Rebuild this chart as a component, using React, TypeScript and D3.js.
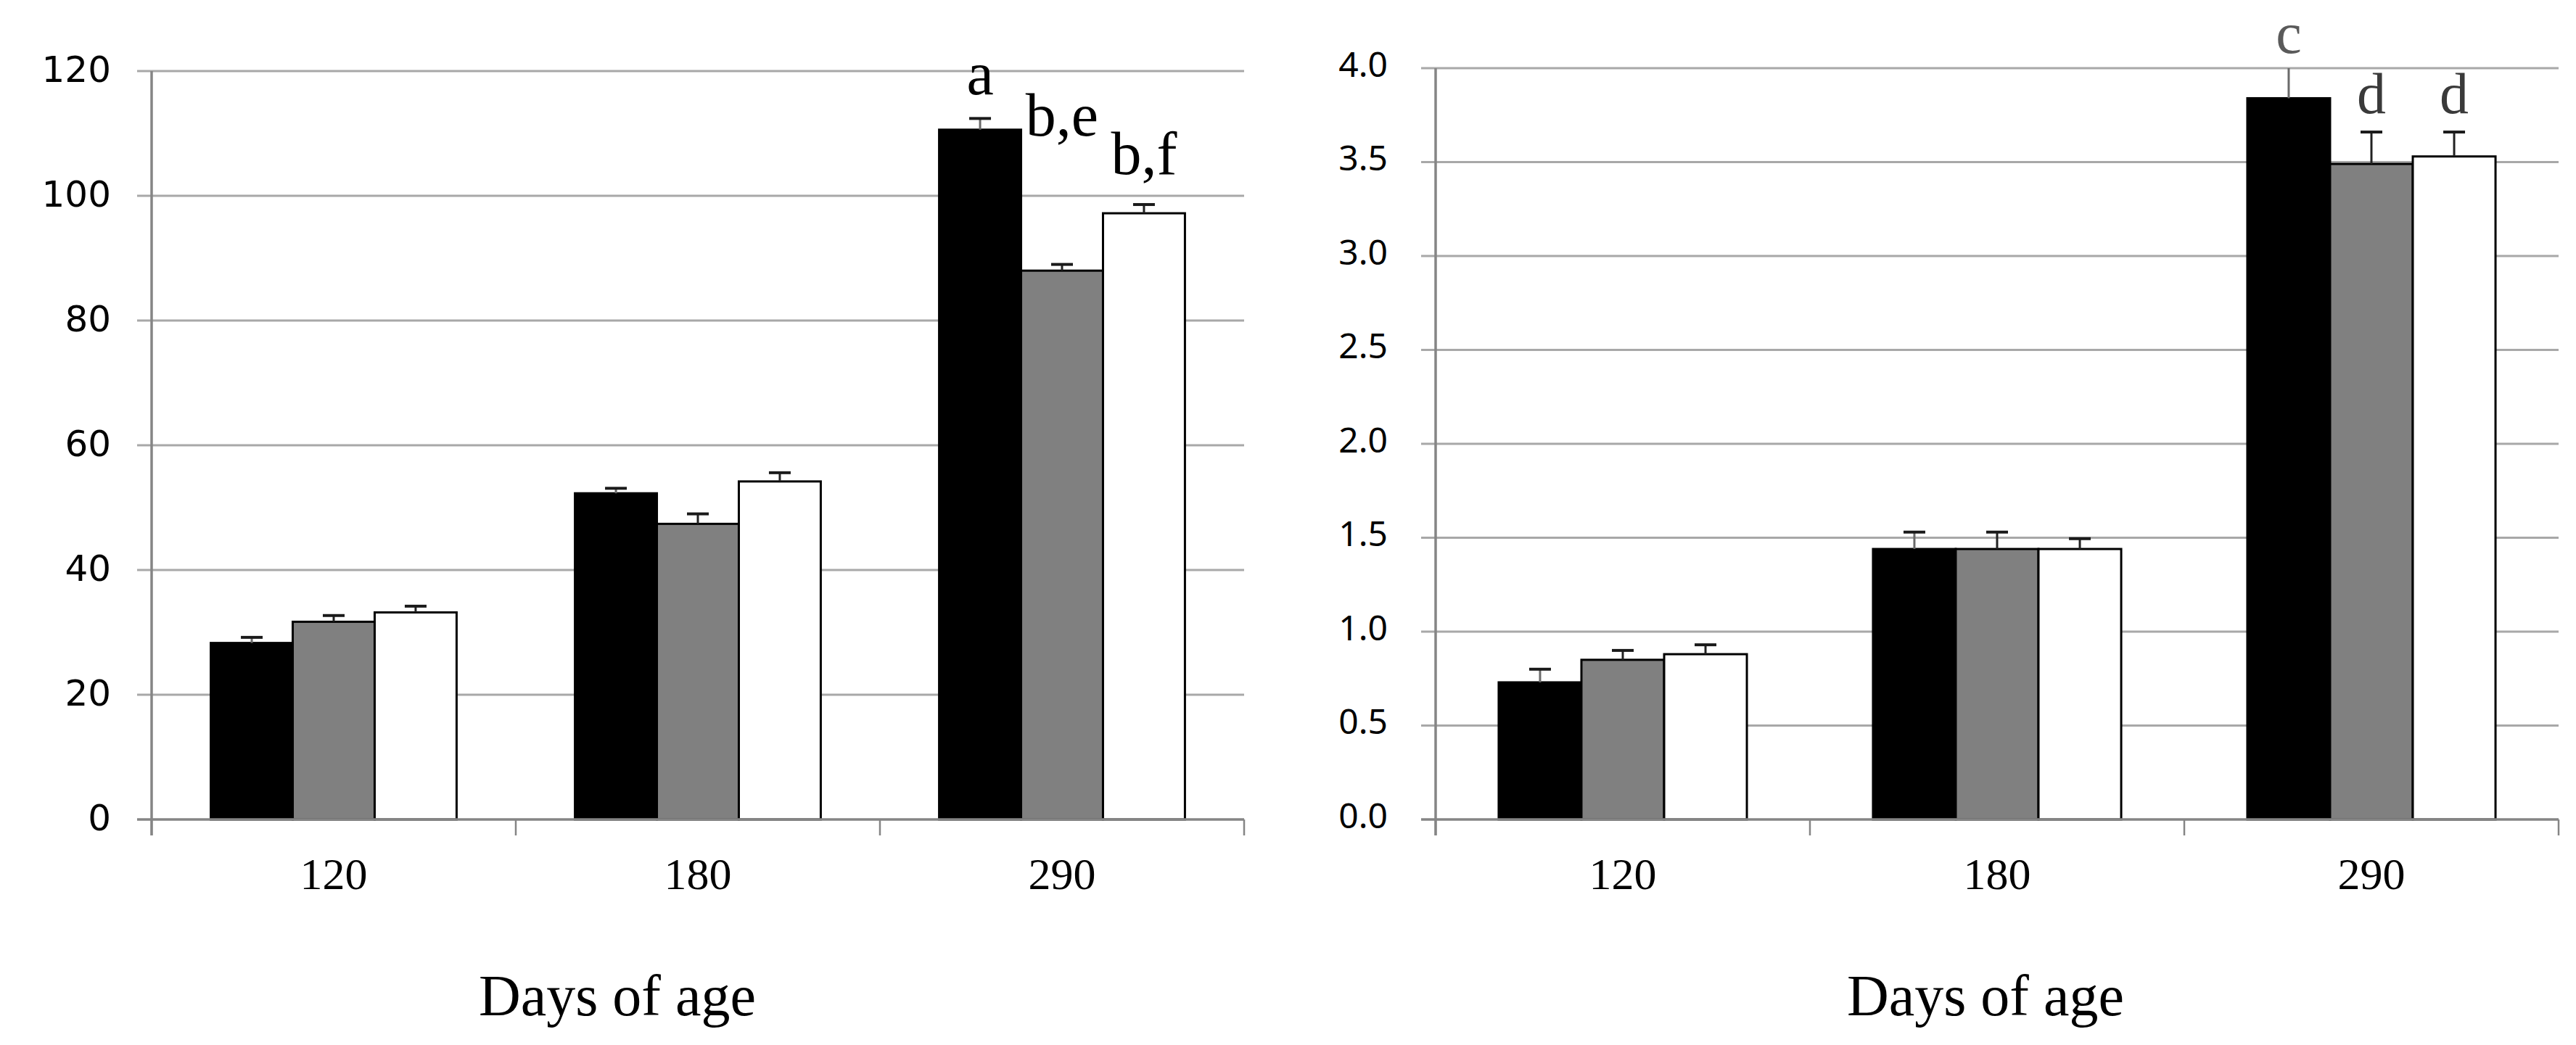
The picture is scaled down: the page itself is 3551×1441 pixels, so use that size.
import React from "react";
import * as d3 from "d3";

const categories = ["120", "180", "290"];
const series = ["black", "gray", "white"];
const seriesFill = ["#000000", "#808080", "#ffffff"];

// Left panel
const leftValues = [
  [28.3, 31.7, 33.2],
  [52.3, 47.4, 54.2],
  [110.6, 88.0, 97.2],
];
const leftErrors = [
  [0.9, 1.0, 1.0],
  [0.8, 1.6, 1.4],
  [1.8, 1.0, 1.4],
];
const leftTicks = [0, 20, 40, 60, 80, 100, 120];
const leftLetters = [
  { cat: 2, s: 0, text: "a", at: 116.3 },
  { cat: 2, s: 1, text: "b,e", at: 109.7 },
  { cat: 2, s: 2, text: "b,f", at: 103.5 },
];

// Right panel
const rightValues = [
  [0.73, 0.85, 0.88],
  [1.44, 1.44, 1.44],
  [3.84, 3.49, 3.53],
];
const rightErrors = [
  [0.07, 0.05, 0.05],
  [0.09, 0.09, 0.055],
  [0.2, 0.17, 0.13],
];
const rightTicks = [0, 0.5, 1.0, 1.5, 2.0, 2.5, 3.0, 3.5, 4.0];
const rightLetters = [
  { cat: 2, s: 0, text: "c", at: 4.08, color: "#5a5a5a" },
  { cat: 2, s: 1, text: "d", at: 3.76, color: "#3a3a3a" },
  { cat: 2, s: 2, text: "d", at: 3.76, color: "#3a3a3a" },
];

const xTitle = "Days of age";

type PanelProps = {
  x0: number;
  x1: number;
  yTop: number;
  yBottom: number;
  yMax: number;
  values: number[][];
  errors: number[][];
  ticks: number[];
  tickFmt: (v: number) => string;
  tickFont: string;
  tickSize: number;
  tickRight: number;
  tickDy: number;
  letters: { cat: number; s: number; text: string; at: number; color?: string }[];
  letterSize: number;
  padding: number;
  titleX: number;
};

function Panel(p: PanelProps) {
  const x = d3.scaleBand<string>().domain(categories).range([p.x0, p.x1]).paddingInner(p.padding).paddingOuter(p.padding / 2);
  const xs = d3.scaleBand<string>().domain(series).range([0, x.bandwidth()]);
  const y = d3.scaleLinear().domain([0, p.yMax]).range([p.yBottom, p.yTop]);
  const step = x.step();
  const boundaries = d3.range(categories.length + 1).map((i) => p.x0 + i * step);
  const grid = "#a8a8a8";
  const axis = "#858585";
  return (
    <g>
      {p.ticks.filter((t) => t > 0).map((t) => (
        <line key={"g" + t} x1={p.x0 - 20} x2={p.x1} y1={y(t)} y2={y(t)} stroke={grid} strokeWidth={3} />
      ))}
      {p.ticks.map((t) => (
        <text key={"yl" + t} x={p.tickRight} y={y(t) + p.tickDy} textAnchor="end" dominantBaseline="central"
          fontFamily={p.tickFont} fontSize={p.tickSize} fill="#000">
          {p.tickFmt(t)}
        </text>
      ))}
      {categories.map((c, ci) =>
        series.map((s, si) => {
          const v = p.values[ci][si];
          const bx = (x(c) as number) + (xs(s) as number);
          return (
            <rect key={c + s} x={bx} y={y(v)} width={xs.bandwidth()} height={y(0) - y(v)}
              fill={seriesFill[si]} stroke="#000" strokeWidth={3} />
          );
        })
      )}
      {categories.map((c, ci) =>
        series.map((s, si) => {
          const v = p.values[ci][si];
          const e = p.errors[ci][si];
          const cx = (x(c) as number) + (xs(s) as number) + xs.bandwidth() / 2;
          const top = Math.min(v + e, p.yMax);
          const clipped = v + e > p.yMax;
          return (
            <g key={"e" + c + s}>
              <line x1={cx} x2={cx} y1={y(v)} y2={y(top)} stroke={si === 0 ? "#6a6a6a" : "#222"} strokeWidth={3} />
              {!clipped && (
                <line x1={cx - 15} x2={cx + 15} y1={y(top)} y2={y(top)} stroke="#1a1a1a" strokeWidth={4} />
              )}
            </g>
          );
        })
      )}
      <line x1={p.x0 - 20} x2={p.x1} y1={y(0)} y2={y(0)} stroke={axis} strokeWidth={3.5} />
      {boundaries.map((bx, i) => (
        <line key={"xt" + i} x1={bx} x2={bx} y1={y(0)} y2={y(0) + 22} stroke={axis} strokeWidth={2.5} />
      ))}
      <line x1={p.x0} x2={p.x0} y1={y(p.yMax)} y2={y(0) + 22} stroke={axis} strokeWidth={3.5} />
      {categories.map((c) => (
        <text key={"xl" + c} x={(x(c) as number) + x.bandwidth() / 2} y={1226} textAnchor="middle"
          fontFamily="'Liberation Serif', 'DejaVu Serif', serif" fontSize={62} fill="#000">
          {c}
        </text>
      ))}
      {p.letters.map((l, i) => {
        const c = categories[l.cat];
        const cx = (x(c) as number) + (xs(series[l.s]) as number) + xs.bandwidth() / 2;
        return (
          <text key={"lt" + i} x={cx} y={y(l.at)} textAnchor="middle"
            fontFamily="'Liberation Serif', 'DejaVu Serif', serif" fontSize={p.letterSize} fill={l.color || "#000"}>
            {l.text}
          </text>
        );
      })}
      <text x={p.titleX} y={1400} textAnchor="middle" fontFamily="'Liberation Serif', 'DejaVu Serif', serif"
        fontSize={80} fill="#000">
        {xTitle}
      </text>
    </g>
  );
}

export default function App() {
  return (
    <svg width={3551} height={1441} style={{ position: "absolute", left: 0, top: 0, background: "#fff" }}>
      <rect x={0} y={0} width={3551} height={1441} fill="#fff" />
      <Panel x0={209} x1={1715} yTop={98} yBottom={1130} yMax={120}
        values={leftValues} errors={leftErrors} ticks={leftTicks}
        tickFmt={(v) => String(v)} tickFont="'DejaVu Sans', Verdana, sans-serif" tickSize={50}
        tickRight={153} tickDy={-2} letters={leftLetters} letterSize={84} padding={0.325} titleX={851} />
      <Panel x0={1979} x1={3527} yTop={94} yBottom={1130} yMax={4}
        values={rightValues} errors={rightErrors} ticks={rightTicks}
        tickFmt={(v) => v.toFixed(1)} tickFont="'Noto Sans', 'Open Sans', sans-serif" tickSize={48}
        tickRight={1913} tickDy={-7} letters={rightLetters} letterSize={80} padding={0.337} titleX={2737} />
    </svg>
  );
}
